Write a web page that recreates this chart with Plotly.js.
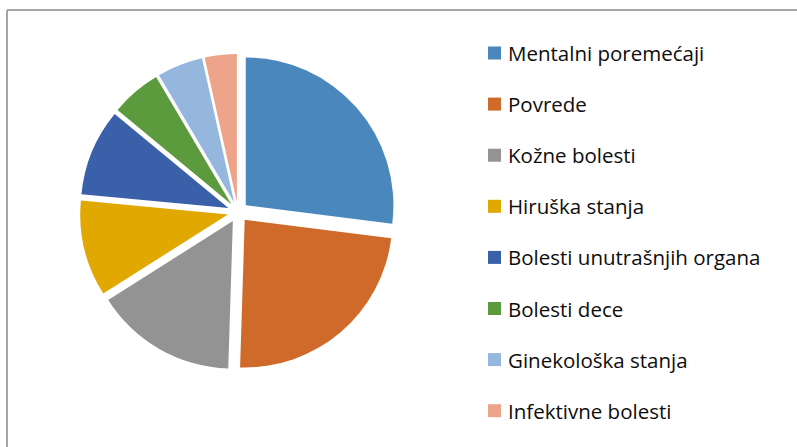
<!DOCTYPE html>
<html>
<head>
<meta charset="utf-8">
<script src="https://cdn.plot.ly/plotly-3.0.1.min.js"></script>
<style>
  html, body { margin: 0; padding: 0; background: #ffffff; }
  #chart { width: 797px; height: 447px; }
</style>
</head>
<body>
<div id="chart"></div>
<script>
// ---- data ----
var categories = [
  "Mentalni poremećaji",
  "Povrede",
  "Kožne bolesti",
  "Hiruška stanja",
  "Bolesti unutrašnjih organa",
  "Bolesti dece",
  "Ginekološka stanja",
  "Infektivne bolesti"
];
var values = [27, 23.5, 15.5, 10.5, 9.5, 5.5, 5, 3.5];
var colors = ["#4a87bd", "#d06a2a", "#939393", "#e0a800", "#3a60aa", "#5c9a3e", "#95b7de", "#eea48a"];

// ---- layout helpers ----
var W = 797, H = 447;
function px(x) { return x / W; }
function py(y) { return 1 - y / H; }

var shapes = [
  {type: "line", xref: "paper", yref: "paper", x0: px(7), x1: 1, y0: py(10), y1: py(10),
   line: {color: "#a6a6a6", width: 2}},
  {type: "line", xref: "paper", yref: "paper", x0: px(7), x1: px(7), y0: 0, y1: py(10),
   line: {color: "#a6a6a6", width: 2}}
];
var annotations = [];
var legTop = 53, legStep = 51.1, boxL = 488, boxS = 13, textL = 506;
categories.forEach(function (c, i) {
  var yc = legTop + i * legStep;
  shapes.push({type: "rect", xref: "paper", yref: "paper",
    x0: px(boxL), x1: px(boxL + boxS), y0: py(yc + boxS / 2), y1: py(yc - boxS / 2),
    fillcolor: colors[i], line: {width: 0}});
  annotations.push({xref: "paper", yref: "paper", x: px(textL), y: py(yc),
    xanchor: "left", yanchor: "middle", showarrow: false, text: c,
    font: {family: "Open Sans, sans-serif", size: 20.5, color: "#0d0d0d"}});
});

var cx = 238, cy = 212, half = 158;
var trace = {
  type: "pie",
  labels: categories,
  values: values,
  sort: false,
  direction: "clockwise",
  rotation: 0,
  pull: values.map(function () { return 0.07; }),
  marker: {colors: colors, line: {width: 0}},
  textinfo: "none",
  hoverinfo: "label+value+percent",
  domain: {x: [px(cx - half), px(cx + half)], y: [py(cy + half), py(cy - half)]}
};

Plotly.newPlot("chart", [trace], {
  width: W, height: H,
  margin: {l: 0, r: 0, t: 0, b: 0},
  paper_bgcolor: "#ffffff",
  showlegend: false,
  shapes: shapes,
  annotations: annotations
}, {displayModeBar: false, staticPlot: true});
</script>
</body>
</html>
